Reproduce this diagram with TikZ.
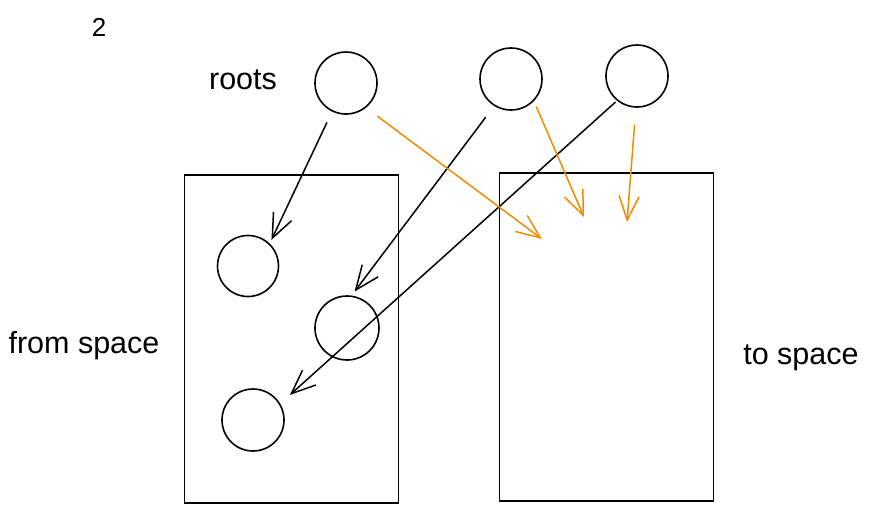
\documentclass[tikz,border=0pt]{standalone}
\usepackage{fontspec}
\setmainfont{Liberation Sans}
\usetikzlibrary{arrows.meta, positioning}
\definecolor{sketchorange}{HTML}{F08C00}
\tikzstyle{obj} = [circle, minimum size=62pt, inner sep=0pt, draw=black, line width=1.6pt]
\tikzstyle{space} = [rectangle, minimum width=214pt, minimum height=328pt, inner sep=0pt, draw=black, line width=1.6pt]
\tikzstyle{label} = [font=\fontsize{30.5}{34}\selectfont, inner sep=0pt]
\tikzstyle{arrow} = [line width=1.5pt, -{Straight Barb[length=24pt,width=20pt]}]
\tikzstyle{copy} = [arrow, draw=sketchorange]

\begin{document}
\begin{tikzpicture}[x=1pt, y=-1pt]
	\useasboundingbox (0,0) rectangle (872,512);
	\node (num) [label, font=\fontsize{26}{28}\selectfont] at (99,27) {2};
	\node (roots) [label] at (243,80) {roots};
	\node (root1) [obj] at (346,83) {};
	\node (root2) [obj] at (511,79) {};
	\node (root3) [obj] at (637,76) {};
	\node (from) [space] at (291.5,339) {};
	\node (to) [space] at (606.5,337) {};
	\node (fromlabel) [label] at (84,346) {from space};
	\node (tolabel) [label] at (801,358) {to space};
	\node (objA) [obj, minimum size=61pt] at (248,266) {};
	\node (objB) [obj, minimum size=64pt] at (347,328) {};
	\node (objC) [obj] at (253,420) {};
	\coordinate (new1) at (542,239);
	\coordinate (new2) at (584,217);
	\coordinate (new3) at (627,222);
	\draw [arrow, shorten <=12pt, shorten >=4pt] (root1.244) -- (objA.46);
	\draw [arrow, shorten <=14pt, shorten >=5pt] (root2.238) -- (objB.82);
	\draw [arrow, shorten <=2pt, shorten >=13pt] (root3.231) -- (objC.31);
	\draw [copy, shorten <=14pt] (root1.309) -- (new1);
	\draw [copy, shorten <=6pt] (root2.316) -- (new2);
	\draw [copy, shorten <=17pt] (root3.268) -- (new3);
\end{tikzpicture}
\end{document}
